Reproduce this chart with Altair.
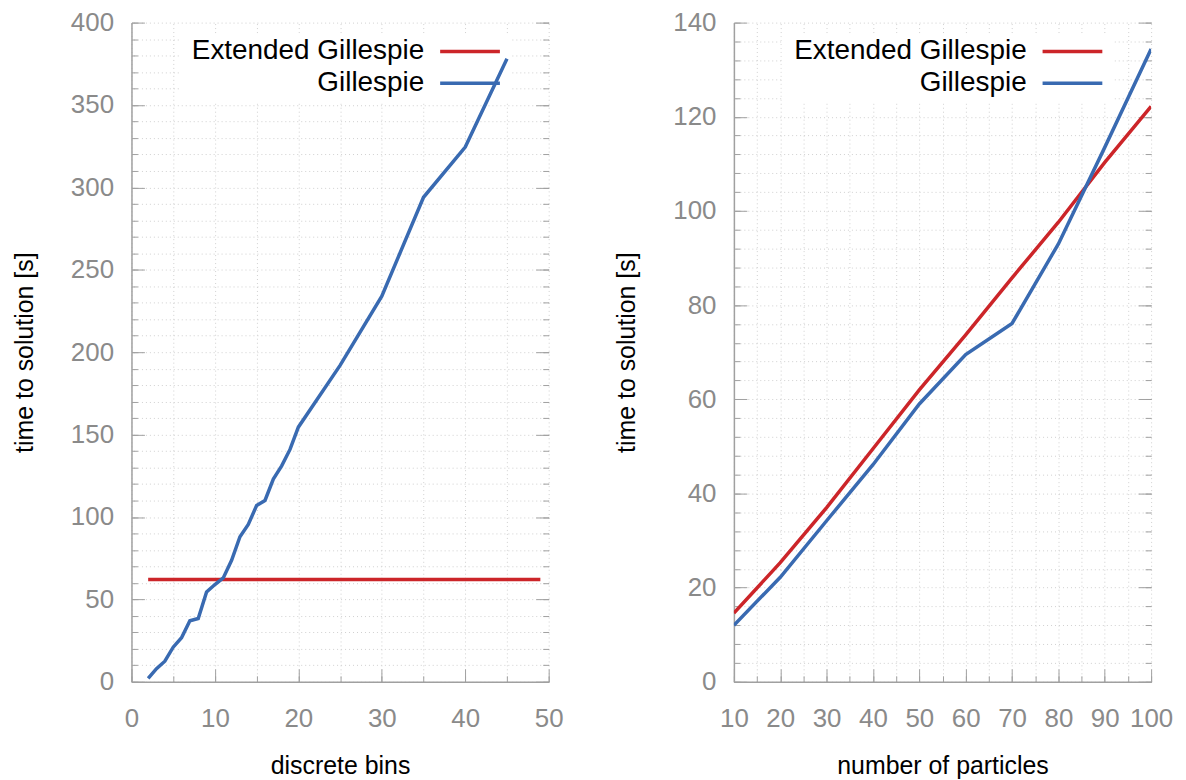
import altair as alt
import pandas as pd

# ---------------- data ----------------
bins_x = [2, 3, 4, 5, 6, 7, 8, 9, 10, 11, 12, 13, 14, 15, 16, 17, 18, 19, 20, 25, 30, 35, 40, 45]
bins_gillespie = [2, 8, 12.5, 21, 26.7, 37, 38.4, 54.5, 59, 63, 73.7, 88, 95.5, 107, 110,
                  123, 131, 141, 154.5, 192, 234, 294, 324.5, 378]
bins_ext_x = [2, 49]
bins_ext = [62, 62]

particles = [10, 20, 30, 40, 50, 60, 70, 80, 90, 100]
part_ext = [14.6, 25.3, 37, 49.5, 62, 73.7, 85.8, 97.6, 110.3, 122.2]
part_gillespie = [12.0, 22.2, 34.2, 46.1, 59.0, 69.5, 76.1, 93.0, 113.5, 134.4]

SERIES = ["Extended Gillespie", "Gillespie"]
RED = "#cc2529"
BLUE = "#396ab1"

left_df = pd.concat([
    pd.DataFrame({"x": bins_ext_x, "t": bins_ext, "series": SERIES[0]}),
    pd.DataFrame({"x": bins_x, "t": bins_gillespie, "series": SERIES[1]}),
])
right_df = pd.concat([
    pd.DataFrame({"x": particles, "t": part_ext, "series": SERIES[0]}),
    pd.DataFrame({"x": particles, "t": part_gillespie, "series": SERIES[1]}),
])

W = 419
H = 662
FONT = "Liberation Sans"
LABEL_GRAY = "#8a8a8a"
AXIS_GRAY = "#a0a0a0"
GRID = "#d0d0d0"


def rng(a, b, s):
    out = []
    v = a
    while v <= b + 1e-9:
        out.append(v)
        v += s
    return out


def panel(df, xdom, xmaj, xmin_step, ydom, ymaj, ymin_step, xtitle, ytitle):
    xs = alt.Scale(domain=xdom, nice=False, zero=False)
    ys = alt.Scale(domain=ydom, nice=False, zero=False)
    xall = rng(xdom[0], xdom[1], xmin_step)
    yall = rng(ydom[0], ydom[1], ymin_step)
    base = alt.Chart(df)
    common = dict(labels=False, domain=False, title=None, tickColor=AXIS_GRAY, tickWidth=1)

    # minor ticks + dotted grid (inward, bottom and left)
    minor = base.mark_line(opacity=0).encode(
        x=alt.X("x:Q", scale=xs, axis=alt.Axis(orient="top", offset=-H, values=xall, tickSize=6,
                                               grid=True, gridColor=GRID, gridDash=[1, 3], **common)),
        y=alt.Y("t:Q", scale=ys, axis=alt.Axis(orient="right", offset=-W, values=yall, tickSize=6,
                                               grid=True, gridColor=GRID, gridDash=[1, 3], **common)),
    )
    # major ticks (inward, bottom and left)
    major = base.mark_line(opacity=0).encode(
        x=alt.X("x:Q", scale=xs, axis=alt.Axis(orient="top", offset=-H, values=xmaj, tickSize=13,
                                               grid=False, **common)),
        y=alt.Y("t:Q", scale=ys, axis=alt.Axis(orient="right", offset=-W, values=ymaj, tickSize=13,
                                               grid=False, **common)),
    )
    # mirror ticks on the right edge
    mirror_minor = base.mark_line(opacity=0).encode(
        x=alt.X("x:Q", scale=xs, axis=None),
        y=alt.Y("t:Q", scale=ys, axis=alt.Axis(orient="left", offset=-W, values=yall, tickSize=6,
                                               grid=False, **common)),
    )
    mirror_major = base.mark_line(opacity=0).encode(
        x=alt.X("x:Q", scale=xs, axis=None),
        y=alt.Y("t:Q", scale=ys, axis=alt.Axis(orient="left", offset=-W, values=ymaj, tickSize=13,
                                               grid=False, **common)),
    )
    # white legend box hiding the grid
    box = alt.Chart(pd.DataFrame({"k": [0]})).mark_rect(fill="white").encode(
        x=alt.value(48), x2=alt.value(382), y=alt.value(12), y2=alt.value(81)
    )
    lines = base.mark_line(strokeWidth=3.5, clip=True).encode(
        x=alt.X("x:Q", scale=xs, axis=alt.Axis(orient="bottom", values=xmaj, title=xtitle, ticks=False,
                                               tickSize=0, grid=False, domainColor=AXIS_GRAY,
                                               labelColor=LABEL_GRAY, labelFontSize=26, labelPadding=24,
                                               titleFontSize=25, titleFontWeight="normal", titleColor="black",
                                               titlePadding=22, labelFlush=False)),
        y=alt.Y("t:Q", scale=ys, axis=alt.Axis(orient="left", values=ymaj, title=ytitle, ticks=False,
                                               tickSize=0, grid=False, domainColor=AXIS_GRAY,
                                               labelColor=LABEL_GRAY, labelFontSize=26, labelPadding=18,
                                               titleFontSize=25, titleFontWeight="normal", titleColor="black",
                                               titlePadding=33, labelFlush=False)),
        color=alt.Color("series:N", scale=alt.Scale(domain=SERIES, range=[RED, BLUE]), legend=None),
        detail="series:N",
    )
    one = pd.DataFrame({"k": [0]})
    leg = []
    for name, col, yy in [(SERIES[0], RED, 29), (SERIES[1], BLUE, 61)]:
        leg.append(alt.Chart(one).mark_text(text=name, align="right", baseline="middle", fontSize=28,
                                            font=FONT, color="black").encode(
            x=alt.value(294), y=alt.value(yy)))
        leg.append(alt.Chart(one).mark_rule(strokeWidth=3.5, color=col).encode(
            x=alt.value(310), x2=alt.value(370), y=alt.value(yy)))
    return alt.layer(minor, major, mirror_minor, mirror_major, box, lines, *leg).resolve_axis(
        x="independent", y="independent").properties(width=W, height=H)


left = panel(left_df, [0, 50], rng(0, 50, 10), 5, [0, 400], rng(0, 400, 50), 10,
             "discrete bins", "time to solution [s]")
right = panel(right_df, [10, 100], rng(10, 100, 10), 5, [0, 140], rng(0, 140, 20), 4,
              "number of particles", "time to solution [s]")

chart = alt.hconcat(left, right, spacing=51).properties(
    padding={"left": 4, "top": 0, "right": 5, "bottom": 5}
).configure(font=FONT).configure_view(stroke=None).configure_axis(
    labelFont=FONT, titleFont=FONT, domainWidth=1.5
)

chart.save("out.html", embed_options={"renderer": "svg", "actions": False})
